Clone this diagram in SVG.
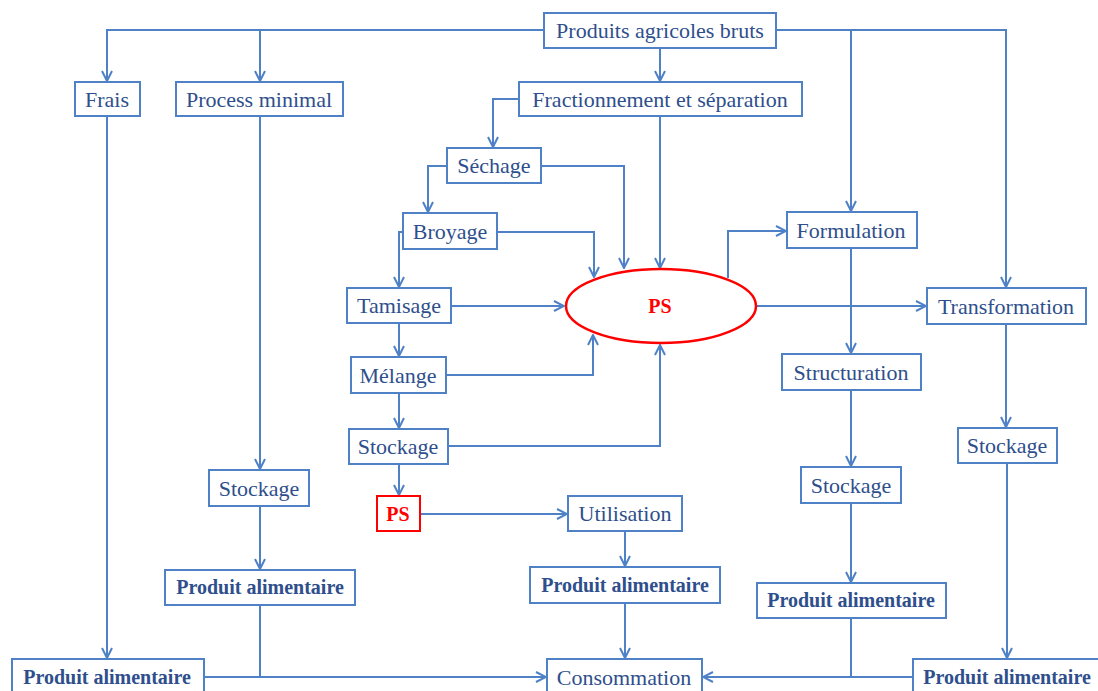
<svg xmlns="http://www.w3.org/2000/svg" width="1098" height="691" viewBox="0 0 1098 691">
<defs>
<marker id="ar" viewBox="0 0 12 12" refX="11" refY="6" markerWidth="12" markerHeight="12" markerUnits="userSpaceOnUse" orient="auto">
<path d="M1,1 L11,6 L1,11" fill="none" stroke="#4F81C7" stroke-width="2"/>
</marker>
<style>
.b{fill:#fff;stroke:#4F81C7;stroke-width:2}
.t{font-family:"Liberation Serif",serif;font-size:22px;fill:#2E4F8C;text-anchor:middle}
.tb{font-weight:bold;font-size:20px}
.c{fill:none;stroke:#4F81C7;stroke-width:2}
.red{fill:#fff;stroke:#FF0000;stroke-width:2}
.rt{fill:#FF0000;font-weight:bold;font-size:20px}
</style>
</defs>
<rect width="1098" height="691" fill="#fff"/>
<g id="connectors">
<path class="c" d="M544,30 H107 V81" marker-end="url(#ar)"/>
<path class="c" d="M260,30 V81" marker-end="url(#ar)"/>
<path class="c" d="M776,30 H1006 V287" marker-end="url(#ar)"/>
<path class="c" d="M851,30 V211" marker-end="url(#ar)"/>
<path class="c" d="M660,48 V81" marker-end="url(#ar)"/>
<path class="c" d="M519,99 H493 V147" marker-end="url(#ar)"/>
<path class="c" d="M660,116 V268" marker-end="url(#ar)"/>
<path class="c" d="M541,166 H624 V268" marker-end="url(#ar)"/>
<path class="c" d="M447,166 H428 V212" marker-end="url(#ar)"/>
<path class="c" d="M497,232 H594 V277" marker-end="url(#ar)"/>
<path class="c" d="M403,232 H399 V287" marker-end="url(#ar)"/>
<path class="c" d="M451,306 H564" marker-end="url(#ar)"/>
<path class="c" d="M399,323 V356" marker-end="url(#ar)"/>
<path class="c" d="M446,375 H593 V335" marker-end="url(#ar)"/>
<path class="c" d="M399,393 V428" marker-end="url(#ar)"/>
<path class="c" d="M448,446 H660 V345" marker-end="url(#ar)"/>
<path class="c" d="M399,464 V495" marker-end="url(#ar)"/>
<path class="c" d="M420,514 H567" marker-end="url(#ar)"/>
<path class="c" d="M625,531 V566" marker-end="url(#ar)"/>
<path class="c" d="M625,603 V658" marker-end="url(#ar)"/>
<path class="c" d="M757,306 H926" marker-end="url(#ar)"/>
<path class="c" d="M728,278 V231 H786" marker-end="url(#ar)"/>
<path class="c" d="M851,248 V353" marker-end="url(#ar)"/>
<path class="c" d="M851,390 V466" marker-end="url(#ar)"/>
<path class="c" d="M851,503 V582" marker-end="url(#ar)"/>
<path class="c" d="M851,618 V677"/>
<path class="c" d="M913,677 H703" marker-end="url(#ar)"/>
<path class="c" d="M1006,324 V427" marker-end="url(#ar)"/>
<path class="c" d="M1007,463 V658" marker-end="url(#ar)"/>
<path class="c" d="M107,116 V658" marker-end="url(#ar)"/>
<path class="c" d="M260,116 V469" marker-end="url(#ar)"/>
<path class="c" d="M260,506 V569" marker-end="url(#ar)"/>
<path class="c" d="M260,605 V677"/>
<path class="c" d="M204,677 H546" marker-end="url(#ar)"/>
</g>
<g id="n-produits"><rect class="b" x="544" y="13" width="232" height="35"/><text class="t" x="660" y="38">Produits agricoles bruts</text></g>
<g id="n-frais"><rect class="b" x="75" y="82" width="65" height="34"/><text class="t" x="107" y="107">Frais</text></g>
<g id="n-process"><rect class="b" x="176" y="82" width="167" height="34"/><text class="t" x="259" y="107">Process minimal</text></g>
<g id="n-fraction"><rect class="b" x="519" y="82" width="283" height="34"/><text class="t" x="660" y="107">Fractionnement et séparation</text></g>
<g id="n-sechage"><rect class="b" x="447" y="148" width="94" height="35"/><text class="t" x="494" y="173">Séchage</text></g>
<g id="n-broyage"><rect class="b" x="403" y="213" width="94" height="36"/><text class="t" x="450" y="239">Broyage</text></g>
<g id="n-tamisage"><rect class="b" x="347" y="288" width="104" height="35"/><text class="t" x="399" y="313">Tamisage</text></g>
<g id="n-melange"><rect class="b" x="351" y="357" width="95" height="36"/><text class="t" x="398" y="383">Mélange</text></g>
<g id="n-stockage1"><rect class="b" x="349" y="429" width="99" height="35"/><text class="t" x="398" y="454">Stockage</text></g>
<g id="n-ps-box"><rect class="red" x="377" y="496" width="43" height="35"/><text class="t rt" x="398" y="521">PS</text></g>
<g id="n-utilisation"><rect class="b" x="568" y="496" width="114" height="35"/><text class="t" x="625" y="521">Utilisation</text></g>
<g id="n-pa-mid"><rect class="b" x="530" y="567" width="190" height="36"/><text class="t tb" x="625" y="592">Produit alimentaire</text></g>
<g id="n-conso"><rect class="b" x="547" y="659" width="155" height="40"/><text class="t" x="624" y="685">Consommation</text></g>
<g id="n-pa-bl"><rect class="b" x="12" y="659" width="192" height="40"/><text class="t tb" x="107" y="684">Produit alimentaire</text></g>
<g id="n-stockage-l"><rect class="b" x="209" y="470" width="100" height="36"/><text class="t" x="259" y="496">Stockage</text></g>
<g id="n-pa-l"><rect class="b" x="165" y="570" width="190" height="35"/><text class="t tb" x="260" y="594">Produit alimentaire</text></g>
<g id="n-ps"><ellipse cx="661" cy="306" rx="95" ry="37" fill="#fff" stroke="#FF0000" stroke-width="2.5"/><text class="t rt" x="660" y="313">PS</text></g>
<g id="n-formulation"><rect class="b" x="787" y="212" width="130" height="36"/><text class="t" x="851" y="238">Formulation</text></g>
<g id="n-transfo"><rect class="b" x="927" y="288" width="159" height="36"/><text class="t" x="1006" y="314">Transformation</text></g>
<g id="n-structuration"><rect class="b" x="782" y="354" width="139" height="36"/><text class="t" x="851" y="380">Structuration</text></g>
<g id="n-stockage-rm"><rect class="b" x="801" y="467" width="100" height="36"/><text class="t" x="851" y="493">Stockage</text></g>
<g id="n-pa-rm"><rect class="b" x="757" y="583" width="189" height="35"/><text class="t tb" x="851" y="607">Produit alimentaire</text></g>
<g id="n-stockage-r"><rect class="b" x="958" y="428" width="99" height="35"/><text class="t" x="1007" y="453">Stockage</text></g>
<g id="n-pa-r"><rect class="b" x="913" y="659" width="190" height="40"/><text class="t tb" x="1007" y="684">Produit alimentaire</text></g>
</svg>
